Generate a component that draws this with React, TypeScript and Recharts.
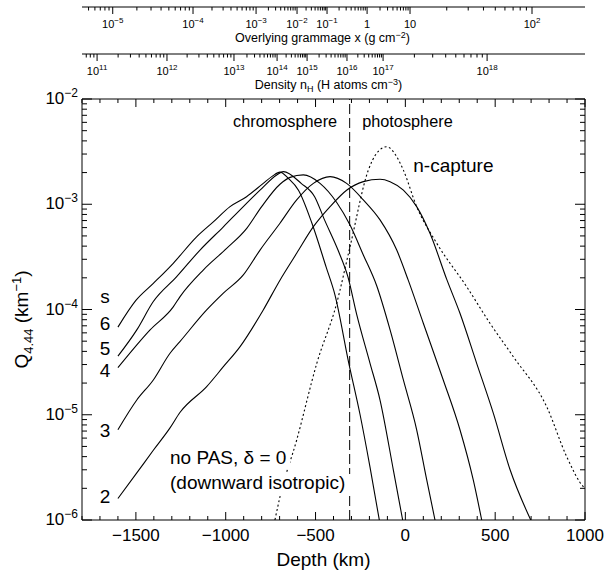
import React from 'react';
import { ComposedChart, Line, XAxis, YAxis, ReferenceLine, ReferenceDot } from 'recharts';

const FONT = '"Liberation Sans", Arial, Helvetica, sans-serif';

// ---------- axes ----------
const depthDomain: [number, number] = [-1800, 1000];
const depthTicks = [
  -1800, -1700, -1600, -1500, -1400, -1300, -1200, -1100, -1000, -900, -800, -700, -600, -500, -400,
  -300, -200, -100, 0, 100, 200, 300, 400, 500, 600, 700, 800, 900, 1000,
];
const depthLabels = [-1500, -1000, -500, 0, 500, 1000];

const qDomain: [number, number] = [1e-6, 1e-2];
const qTicks = [
  1e-6, 2e-6, 3e-6, 4e-6, 5e-6, 6e-6, 7e-6, 8e-6, 9e-6,
  1e-5, 2e-5, 3e-5, 4e-5, 5e-5, 6e-5, 7e-5, 8e-5, 9e-5,
  1e-4, 2e-4, 3e-4, 4e-4, 5e-4, 6e-4, 7e-4, 8e-4, 9e-4,
  1e-3, 2e-3, 3e-3, 4e-3, 5e-3, 6e-3, 7e-3, 8e-3, 9e-3,
  1e-2,
];
const qMajor = [1e-6, 1e-5, 1e-4, 1e-3, 1e-2];
const qMajorExp = [-6, -5, -4, -3, -2];

// secondary (top) scales: depth (km) where each decade falls
const gramDepth = [-1629, -1182, -831, -603, -436, -213, 26, 705];
const gramExp = [-5, -4, -3, -2, -1, 0, 1, 2];
const densDepth = [-1716, -1327, -954, -714, -547, -325, -124, 455];
const densExp = [11, 12, 13, 14, 15, 16, 17, 18];

const LOG_STEPS = [0.301, 0.477, 0.602, 0.699, 0.778, 0.845, 0.903, 0.954];
function withMinor(majors: number[]): number[] {
  const out: number[] = [...majors];
  for (let i = 0; i < majors.length - 1; i++) {
    const span = majors[i + 1] - majors[i];
    LOG_STEPS.forEach((l) => out.push(majors[i] + l * span));
  }
  const span0 = majors[1] - majors[0];
  LOG_STEPS.forEach((l) => {
    const v = majors[0] - (1 - l) * span0;
    if (v > depthDomain[0]) out.push(v);
  });
  return out.sort((a, b) => a - b);
}
const gramTicks = withMinor(gramDepth);
const densTicks = withMinor(densDepth);

// ---------- series: depth (km) vs Q_4.44 (km^-1) ----------
const s6 = [
  { d: -1600, q: 6.8e-5 }, { d: -1500, q: 1.22e-4 }, { d: -1403, q: 1.77e-4 }, { d: -1292, q: 2.75e-4 },
  { d: -1162, q: 4.9e-4 }, { d: -1069, q: 6.8e-4 }, { d: -976, q: 9.5e-4 }, { d: -884, q: 1.18e-3 },
  { d: -791, q: 1.58e-3 }, { d: -740, q: 1.85e-3 }, { d: -698, q: 2.02e-3 }, { d: -650, q: 1.75e-3 },
  { d: -595, q: 1.36e-3 }, { d: -520, q: 6.6e-4 }, { d: -440, q: 2.5e-4 }, { d: -392, q: 1.38e-4 },
  { d: -315, q: 3.1e-5 }, { d: -252, q: 1.0e-5 }, { d: -197, q: 3.2e-6 }, { d: -145, q: 1.0e-6 },
];
const s5 = [
  { d: -1600, q: 3.6e-5 }, { d: -1495, q: 6.4e-5 }, { d: -1403, q: 1.19e-4 }, { d: -1273, q: 2.05e-4 },
  { d: -1143, q: 3.67e-4 }, { d: -1013, q: 6.1e-4 }, { d: -902, q: 9.5e-4 }, { d: -809, q: 1.36e-3 },
  { d: -716, q: 1.9e-3 }, { d: -679, q: 2.04e-3 }, { d: -580, q: 1.58e-3 }, { d: -505, q: 1.18e-3 },
  { d: -450, q: 7.1e-4 }, { d: -375, q: 3.67e-4 }, { d: -320, q: 2.05e-4 }, { d: -271, q: 9.0e-5 },
  { d: -197, q: 3.1e-5 }, { d: -141, q: 1.38e-5 }, { d: -67, q: 3.0e-6 }, { d: -15, q: 1.0e-6 },
];
const s4 = [
  { d: -1600, q: 2.8e-5 }, { d: -1421, q: 6.4e-5 }, { d: -1292, q: 1.06e-4 }, { d: -1255, q: 1.32e-4 },
  { d: -1125, q: 2.37e-4 }, { d: -995, q: 3.8e-4 }, { d: -883, q: 5.9e-4 }, { d: -800, q: 9.5e-4 },
  { d: -698, q: 1.55e-3 }, { d: -642, q: 1.8e-3 }, { d: -568, q: 1.9e-3 }, { d: -475, q: 1.58e-3 },
  { d: -382, q: 1.04e-3 }, { d: -308, q: 6.35e-4 }, { d: -234, q: 3.3e-4 }, { d: -160, q: 1.69e-4 },
  { d: -85, q: 6.4e-5 }, { d: -11, q: 2.14e-5 }, { d: 63, q: 7.2e-6 }, { d: 119, q: 2.4e-6 },
  { d: 165, q: 1.0e-6 },
];
const s3 = [
  { d: -1600, q: 7.2e-6 }, { d: -1495, q: 1.38e-5 }, { d: -1403, q: 2.14e-5 }, { d: -1310, q: 3.84e-5 },
  { d: -1255, q: 4.95e-5 }, { d: -1106, q: 9.9e-5 }, { d: -1013, q: 1.43e-4 }, { d: -902, q: 2.13e-4 },
  { d: -809, q: 3.67e-4 }, { d: -698, q: 6.6e-4 }, { d: -605, q: 1.1e-3 }, { d: -512, q: 1.58e-3 },
  { d: -419, q: 1.83e-3 }, { d: -327, q: 1.58e-3 }, { d: -234, q: 1.1e-3 }, { d: -141, q: 7.1e-4 },
  { d: -48, q: 3.67e-4 }, { d: 16, q: 1.9e-4 }, { d: 100, q: 7.4e-5 }, { d: 211, q: 2.14e-5 },
  { d: 304, q: 7.2e-6 }, { d: 378, q: 2.4e-6 }, { d: 425, q: 1.0e-6 },
];
const s2 = [
  { d: -1600, q: 1.6e-6 }, { d: -1495, q: 2.8e-6 }, { d: -1403, q: 4.6e-6 }, { d: -1310, q: 7.5e-6 },
  { d: -1255, q: 1.05e-5 }, { d: -1106, q: 1.85e-5 }, { d: -1013, q: 2.86e-5 }, { d: -920, q: 4.44e-5 },
  { d: -791, q: 9.9e-5 }, { d: -698, q: 1.9e-4 }, { d: -605, q: 3.42e-4 }, { d: -512, q: 6.12e-4 },
  { d: -419, q: 9.5e-4 }, { d: -327, q: 1.36e-3 }, { d: -234, q: 1.64e-3 }, { d: -141, q: 1.73e-3 },
  { d: -85, q: 1.64e-3 }, { d: -11, q: 1.36e-3 }, { d: 63, q: 9.5e-4 }, { d: 137, q: 5.3e-4 },
  { d: 232, q: 1.9e-4 }, { d: 304, q: 9.2e-5 }, { d: 397, q: 3.08e-5 }, { d: 490, q: 1.03e-5 },
  { d: 583, q: 3.0e-6 }, { d: 698, q: 1.0e-6 },
];
const nCapture = [
  { d: -726, q: 1.0e-6 }, { d: -698, q: 1.66e-6 }, { d: -605, q: 5.75e-6 }, { d: -493, q: 3.08e-5 },
  { d: -382, q: 1.15e-4 }, { d: -308, q: 3.95e-4 }, { d: -206, q: 2.11e-3 }, { d: -160, q: 3.05e-3 },
  { d: -104, q: 3.52e-3 }, { d: -48, q: 2.83e-3 }, { d: -11, q: 2.11e-3 }, { d: 63, q: 9.5e-4 },
  { d: 175, q: 4.25e-4 }, { d: 341, q: 1.65e-4 }, { d: 471, q: 7.4e-5 }, { d: 601, q: 3.56e-5 },
  { d: 787, q: 1.19e-5 }, { d: 898, q: 4.0e-6 }, { d: 991, q: 2.07e-6 }, { d: 1000, q: 2.0e-6 },
];
const solidSeries = [
  { key: 's2', data: s2 },
  { key: 's3', data: s3 },
  { key: 's4', data: s4 },
  { key: 's5', data: s5 },
  { key: 's6', data: s6 },
];

// boundary between chromosphere and photosphere
const boundaryDepth = -310;

// annotation anchors (data coordinates)
const curveLabels = [
  { text: 's', d: -1672, q: 1.28e-4 },
  { text: '6', d: -1672, q: 7.4e-5 },
  { text: '5', d: -1672, q: 4.28e-5 },
  { text: '4', d: -1672, q: 2.66e-5 },
  { text: '3', d: -1672, q: 7.16e-6 },
  { text: '2', d: -1672, q: 1.66e-6 },
];
const regionLabelQ = 5.38e-3;
const nCaptureLabel = { text: 'n-capture', d: 44, q: 2.04e-3 };
const noteLines = [
  { text: 'no PAS, \u03b4 = 0', d: -1310, q: 3.4e-6, w: 122 },
  { text: '(downward isotropic)', d: -1310, q: 1.97e-6, w: 185 },
];

const minus = (n: number) => (n < 0 ? '\u2212' + -n : String(n));

// ---------- tick renderers ----------
const BottomTick = (p: any) => {
  const { x, y, payload } = p;
  const v = payload.value;
  const major = v % 500 === 0;
  return (
    <g>
      <line x1={x} x2={x} y1={y} y2={y - (major ? 8 : 4)} stroke="#000" />
      {depthLabels.includes(v) && (
        <text x={x} y={y + 21} textAnchor="middle" fontFamily={FONT} fontSize={17} fill="#000">
          {minus(v)}
        </text>
      )}
    </g>
  );
};
const TopFrameTick = (p: any) => {
  const { x, y, payload } = p;
  const major = payload.value % 500 === 0;
  return <line x1={x} x2={x} y1={y} y2={y + (major ? 8 : 4)} stroke="#000" />;
};
const LeftTick = (p: any) => {
  const { x, y, payload } = p;
  const i = qMajor.indexOf(payload.value);
  const major = i >= 0;
  return (
    <g>
      <line x1={x} x2={x + (major ? 10 : 5)} y1={y} y2={y} stroke="#000" />
      {major && (
        <text x={x - 4} y={y + 5} textAnchor="end" fontFamily={FONT} fontSize={17} fill="#000">
          <tspan>10</tspan>
          <tspan dy={-7} fontSize={12}>{minus(qMajorExp[i])}</tspan>
        </text>
      )}
    </g>
  );
};
const RightTick = (p: any) => {
  const { x, y, payload } = p;
  const major = qMajor.indexOf(payload.value) >= 0;
  return <line x1={x} x2={x - (major ? 10 : 5)} y1={y} y2={y} stroke="#000" />;
};
const powerLabel = (e: number) => {
  if (e === 0) return <tspan>1</tspan>;
  if (e === 1) return <tspan>10</tspan>;
  return (
    <>
      <tspan>10</tspan>
      <tspan dy={-5} fontSize={8}>{minus(e)}</tspan>
    </>
  );
};
const makeScaleTick = (majors: number[], exps: number[]) => (p: any) => {
  const { x, y, payload } = p;
  const i = majors.indexOf(payload.value);
  const major = i >= 0;
  return (
    <g>
      <line x1={x} x2={x} y1={y} y2={y + (major ? 7 : 3.5)} stroke="#000" />
      {major && (
        <text x={x} y={y + 20.5} textAnchor="middle" fontFamily={FONT} fontSize={11} fill="#000">
          {powerLabel(exps[i])}
        </text>
      )}
    </g>
  );
};
const GramTick = makeScaleTick(gramDepth, gramExp);
const DensTick = makeScaleTick(densDepth, densExp);

const vbOr = (p: any, fb: any) => (p && p.viewBox && p.viewBox.width !== undefined ? p.viewBox : fb);

const GramTitle = (p: any) => {
  const vb = vbOr(p, { x: 82, y: 0, width: 503, height: 7 });
  const lineY = vb.y + vb.height;
  return (
    <text x={vb.x + vb.width / 2 - 11} y={lineY + 35} textAnchor="middle" fontFamily={FONT} fontSize={12.5} fill="#000">
      Overlying grammage x (g cm<tspan dy={-4.5} fontSize={9}>{'\u22122'}</tspan>
      <tspan dy={4.5}>)</tspan>
    </text>
  );
};
const DensTitle = (p: any) => {
  const vb = vbOr(p, { x: 82, y: 7, width: 503, height: 47 });
  const lineY = vb.y + vb.height;
  return (
    <text x={vb.x + vb.width / 2 - 5} y={lineY + 35} textAnchor="middle" fontFamily={FONT} fontSize={12.5} fill="#000">
      Density n<tspan dy={3} fontSize={9}>H</tspan>
      <tspan dy={-3}> (H atoms cm</tspan>
      <tspan dy={-4.5} fontSize={9}>{'\u22123'}</tspan>
      <tspan dy={4.5}>)</tspan>
    </text>
  );
};
const DepthTitle = (p: any) => {
  const vb = vbOr(p, { x: 82, y: 520, width: 503, height: 52 });
  return (
    <text x={vb.x + vb.width / 2 - 10} y={vb.y + 46} textAnchor="middle" fontFamily={FONT} fontSize={19} fill="#000">
      Depth (km)
    </text>
  );
};
const QTitle = (p: any) => {
  const vb = vbOr(p, { x: 0, y: 99, width: 82, height: 421 });
  const cx = vb.x + 28;
  const cy = vb.y + vb.height / 2 + 10;
  return (
    <text x={cx} y={cy} transform={`rotate(-90 ${cx} ${cy})`} textAnchor="middle" fontFamily={FONT} fontSize={19} fill="#000">
      Q<tspan dy={5} fontSize={13}>4.44</tspan>
      <tspan dy={-5}> (km</tspan>
      <tspan dy={-7} fontSize={13}>{'\u22121'}</tspan>
      <tspan dy={7}>)</tspan>
    </text>
  );
};

export default function App() {
  return (
    <div style={{ position: 'absolute', left: 0, top: 0, background: '#fff' }}>
      <ComposedChart width={610} height={572} margin={{ top: 0, right: 0, bottom: 0, left: 0 }}>
        <XAxis
          xAxisId="b0main"
          dataKey="d"
          type="number"
          domain={depthDomain}
          allowDataOverflow
          ticks={depthTicks}
          interval={0}
          orientation="bottom"
          height={52}
          tickSize={0}
          tickMargin={0}
          tickLine={false}
          tick={BottomTick}
          axisLine={{ stroke: '#000' }}
          label={{ content: DepthTitle }}
        />
        <XAxis
          xAxisId="t1frame"
          dataKey="d"
          type="number"
          domain={depthDomain}
          allowDataOverflow
          ticks={depthTicks}
          interval={0}
          orientation="top"
          height={45}
          tickSize={0}
          tickMargin={0}
          tickLine={false}
          tick={TopFrameTick}
          axisLine={{ stroke: '#000' }}
        />
        <XAxis
          xAxisId="t2dens"
          dataKey="d"
          type="number"
          domain={depthDomain}
          allowDataOverflow
          ticks={densTicks}
          interval={0}
          orientation="top"
          height={47}
          tickSize={0}
          tickMargin={0}
          tickLine={false}
          tick={DensTick}
          axisLine={{ stroke: '#000' }}
          label={{ content: DensTitle }}
        />
        <XAxis
          xAxisId="t3gram"
          dataKey="d"
          type="number"
          domain={depthDomain}
          allowDataOverflow
          ticks={gramTicks}
          interval={0}
          orientation="top"
          height={7}
          tickSize={0}
          tickMargin={0}
          tickLine={false}
          tick={GramTick}
          axisLine={{ stroke: '#000' }}
          label={{ content: GramTitle }}
        />
        <YAxis
          yAxisId="q"
          type="number"
          scale="log"
          domain={qDomain}
          allowDataOverflow
          ticks={qTicks}
          interval={0}
          width={82}
          tickSize={0}
          tickMargin={0}
          tickLine={false}
          tick={LeftTick}
          axisLine={{ stroke: '#000' }}
          label={{ content: QTitle }}
        />
        <YAxis
          yAxisId="qr"
          orientation="right"
          type="number"
          scale="log"
          domain={qDomain}
          allowDataOverflow
          ticks={qTicks}
          interval={0}
          width={25}
          tickSize={0}
          tickMargin={0}
          tickLine={false}
          tick={RightTick}
          axisLine={{ stroke: '#000' }}
        />
        <ReferenceLine
          xAxisId="b0main"
          yAxisId="q"
          x={boundaryDepth}
          stroke="#000"
          strokeWidth={1}
          strokeDasharray="10 4"
        />
        {solidSeries.map((s) => (
          <Line
            key={s.key}
            xAxisId="b0main"
            yAxisId="q"
            data={s.data}
            dataKey="q"
            type="monotone"
            stroke="#000"
            strokeWidth={1.1}
            dot={false}
            activeDot={false}
            isAnimationActive={false}
          />
        ))}
        <Line
          xAxisId="b0main"
          yAxisId="q"
          data={nCapture}
          dataKey="q"
          type="monotone"
          stroke="#000"
          strokeWidth={1.1}
          strokeDasharray="2 2.5"
          dot={false}
          activeDot={false}
          isAnimationActive={false}
        />
        <ReferenceDot
          xAxisId="b0main"
          yAxisId="q"
          x={boundaryDepth}
          y={regionLabelQ}
          r={1}
          shape={(p: any) => (
            <g>
              <text x={p.cx - 12.5} y={p.cy} textAnchor="end" fontFamily={FONT} fontSize={16.3} fill="#000">
                chromosphere
              </text>
              <text x={p.cx + 12.5} y={p.cy} textAnchor="start" fontFamily={FONT} fontSize={16.3} fill="#000">
                photosphere
              </text>
            </g>
          )}
        />
        <ReferenceDot
          xAxisId="b0main"
          yAxisId="q"
          x={nCaptureLabel.d}
          y={nCaptureLabel.q}
          r={1}
          shape={(p: any) => (
            <text x={p.cx} y={p.cy} textAnchor="start" fontFamily={FONT} fontSize={19} fill="#000">
              {nCaptureLabel.text}
            </text>
          )}
        />
        {curveLabels.map((c) => (
          <ReferenceDot
            key={c.text}
            xAxisId="b0main"
            yAxisId="q"
            x={c.d}
            y={c.q}
            r={1}
            shape={(p: any) => (
              <text x={p.cx} y={p.cy + (c.text === 's' ? 5 : 6.5)} textAnchor="middle" fontFamily={FONT} fontSize={19} fill="#000">
                {c.text}
              </text>
            )}
          />
        ))}
        {noteLines.map((n) => (
          <ReferenceDot
            key={n.text}
            xAxisId="b0main"
            yAxisId="q"
            x={n.d}
            y={n.q}
            r={1}
            shape={(p: any) => (
              <g>
                <rect x={p.cx - 2} y={p.cy - 15} width={n.w} height={20} fill="#fff" />
                <text x={p.cx} y={p.cy} textAnchor="start" fontFamily={FONT} fontSize={19} fill="#000">
                  {n.text}
                </text>
              </g>
            )}
          />
        ))}
      </ComposedChart>
    </div>
  );
}
